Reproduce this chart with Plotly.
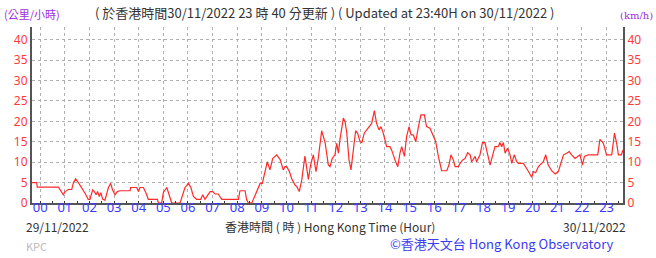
import plotly.graph_objects as go

# Wind speed (km/h) vs Hong Kong time in hours (0 = 00:00 on 30/11/2022)
hours = [-0.33, -0.14, -0.12, 0.74, 0.94, 1.01, 1.14, 1.28, 1.35, 1.44, 1.55, 1.68, 1.82, 1.95, 2.02,
         2.13, 2.20, 2.27, 2.33, 2.40, 2.46, 2.54, 2.63, 2.77, 2.86, 2.94, 3.04, 3.13, 3.24, 3.65,
         3.67, 3.92, 3.99, 4.05, 4.19, 4.30, 4.39, 4.76, 4.80, 4.93, 5.00, 5.14, 5.24, 5.34, 5.68,
         5.79, 5.88, 6.02, 6.12, 6.22, 6.35, 6.52, 6.60, 6.69, 6.83, 6.90, 7.00, 7.10, 7.23, 7.37,
         8.05, 8.11, 8.32, 8.38, 8.45, 8.59, 8.66, 8.79, 8.93, 9.02, 9.13, 9.22, 9.33, 9.44, 9.60,
         9.74, 9.87, 9.94, 10.01, 10.12, 10.21, 10.35, 10.42, 10.52, 10.62, 10.75, 10.89, 10.98,
         11.09, 11.20, 11.29, 11.43, 11.57, 11.63, 11.70, 11.77, 11.86, 11.97, 12.04, 12.11, 12.17,
         12.31, 12.38, 12.45, 12.54, 12.62, 12.72, 12.81, 12.89, 12.99, 13.06, 13.16, 13.26, 13.39,
         13.46, 13.57, 13.66, 13.76, 13.84, 13.93, 14.00, 14.07, 14.20, 14.27, 14.41, 14.52, 14.61,
         14.68, 14.79, 14.88, 14.98, 15.06, 15.15, 15.25, 15.36, 15.46, 15.60, 15.69, 15.83, 15.97,
         16.06, 16.17, 16.23, 16.30, 16.51, 16.60, 16.68, 16.78, 16.85, 16.98, 17.05, 17.15, 17.25,
         17.36, 17.46, 17.52, 17.66, 17.72, 17.86, 17.96, 18.06, 18.17, 18.27, 18.33, 18.47, 18.60,
         18.67, 18.74, 18.81, 18.88, 18.98, 19.08, 19.15, 19.25, 19.35, 19.42, 19.62, 19.75, 19.82,
         19.96, 20.03, 20.12, 20.23, 20.36, 20.43, 20.53, 20.63, 20.77, 20.91, 21.04, 21.11, 21.25,
         21.38, 21.48, 21.58, 21.72, 21.92, 22.02, 22.10, 22.26, 22.64, 22.73, 22.87, 23.00, 23.21,
         23.32, 23.41, 23.48, 23.60, 23.667]
speed = [5.0, 5.0, 3.9, 3.9, 2.0, 2.8, 3.3, 3.3, 5.0, 5.9, 5.0, 3.8, 2.4, 0.9, 0.9,
         3.2, 2.8, 2.0, 2.8, 1.6, 2.5, 0.9, 0.7, 3.8, 4.8, 3.2, 2.0, 2.8, 3.0, 3.0,
         3.8, 3.8, 2.8, 3.8, 3.8, 2.4, 0.9, 0.9, 0.0, 0.0, 2.5, 3.8, 2.0, 0.0, 0.0,
         2.0, 3.8, 4.8, 3.8, 1.6, 0.9, 0.9, 2.0, 0.9, 2.0, 2.8, 2.8, 2.2, 2.2, 0.9,
         0.9, 3.0, 3.0, 0.9, 0.0, 0.0, 0.9, 3.0, 4.8, 4.8, 7.9, 10.1, 8.1, 10.9, 11.8,
         10.7, 8.1, 8.9, 8.9, 7.7, 6.0, 4.4, 4.0, 2.8, 5.6, 11.5, 5.8, 9.3,
         11.8, 7.7, 10.9, 17.7, 14.8, 12.2, 9.3, 8.9, 10.9, 11.8, 14.6, 12.2, 15.4,
         20.8, 19.9, 17.1, 10.5, 8.1, 13.8, 17.7, 17.1, 15.0, 14.8, 17.1, 17.9, 18.9,
         19.5, 22.6, 19.5, 17.9, 18.7, 17.1, 15.4, 13.8, 13.8, 13.0, 10.5, 8.9, 12.2,
         13.8, 11.4, 16.3, 18.7, 16.7, 16.7, 15.0, 18.7, 21.6, 21.6, 18.7, 18.3, 16.3,
         15.0, 11.4, 9.7, 7.9, 7.9, 9.3, 11.8, 10.5, 8.9, 8.9, 9.7, 10.5, 10.9,
         12.3, 11.8, 10.1, 11.4, 10.1, 11.8, 14.8, 14.8, 12.2, 9.3, 10.7, 13.8, 13.8,
         14.8, 13.8, 14.8, 12.2, 13.4, 11.8, 9.7, 11.8, 10.1, 9.7, 9.7, 8.5, 7.7,
         6.3, 7.7, 7.4, 8.9, 9.7, 10.1, 11.8, 9.3, 7.9, 7.1, 7.7, 8.9, 11.8,
         12.2, 12.6, 11.8, 10.9, 11.8, 9.3, 11.4, 11.8, 11.8, 15.6, 14.6, 11.8, 11.8,
         17.1, 14.6, 11.8, 11.8, 13.0]

hour_ticks = list(range(24))
hour_labels = [f"{h:02d}" for h in hour_ticks]
speed_ticks = [0, 5, 10, 15, 20, 25, 30, 35, 40]

X0, X1 = -1/3, 23 + 2/3
Y0, Y1 = 0, 43.1

fig = go.Figure()
fig.add_trace(go.Scatter(x=hours, y=speed, mode="lines",
                         line=dict(color="#ff2a2a", width=1.2), showlegend=False,
                         hoverinfo="skip"))
# invisible companion trace to carry the right-hand axis and the label axis
fig.add_trace(go.Scatter(x=hours, y=speed, mode="lines", xaxis="x2", yaxis="y2",
                         line=dict(color="rgba(0,0,0,0)", width=0), showlegend=False,
                         hoverinfo="skip"))

tickfont_red = dict(family="Noto Sans, DejaVu Sans, sans-serif", size=12, color="#ff3b3b")

fig.update_layout(
    width=656, height=258,
    margin=dict(l=32, r=33, t=27, b=55),
    paper_bgcolor="white", plot_bgcolor="white",
    xaxis=dict(range=[X0, X1], tickvals=hour_ticks, showticklabels=False,
               showgrid=True, gridcolor="#b0b0b0", griddash="dot", gridwidth=1,
               showline=True, linecolor="#555555", linewidth=2,
               ticks="", zeroline=False,
               minor=dict(dtick=0.5, tick0=0, ticks="inside", ticklen=2,
                          tickcolor="#333333", showgrid=False)),
    xaxis2=dict(range=[X0, X1], tickvals=hour_ticks, ticktext=hour_labels,
                overlaying="x", anchor="free", position=0.03, side="bottom",
                showgrid=False, showline=False, ticks="", zeroline=False,
                tickfont=dict(family="Noto Sans, DejaVu Sans, sans-serif", size=13,
                              color="#3a3aff")),
    yaxis=dict(range=[Y0, Y1], tickvals=speed_ticks,
               showgrid=True, gridcolor="#b0b0b0", griddash="dot", gridwidth=1,
               showline=True, linecolor="#555555", linewidth=2,
               zeroline=False, ticks="", tickfont=tickfont_red),
    yaxis2=dict(range=[Y0, Y1], tickvals=speed_ticks, overlaying="y", side="right",
                showgrid=False, showline=True, linecolor="#555555", linewidth=2,
                zeroline=False, ticks="", tickfont=tickfont_red),
)

def px_x(px):
    return (px - 32) / 591

def px_y(py):
    return (203 - py) / 176

cjk = "Noto Sans CJK TC, Noto Sans, sans-serif"
anns = [
    dict(text="(公里/小時)", x=px_x(2), y=px_y(14), xanchor="left",
         font=dict(family=cjk, size=11, color="#a02ee0")),
    dict(text="( 於香港時間30/11/2022 23 時 40 分更新 ) ( Updated at 23:40H on 30/11/2022 )",
         x=px_x(324), y=px_y(12), xanchor="center",
         font=dict(family=cjk, size=13, color="#333333")),
    dict(text="(km/h)", x=px_x(655), y=px_y(15), xanchor="right",
         font=dict(family="DejaVu Serif, serif", size=10, color="#a02ee0")),
    dict(text="29/11/2022", x=px_x(24), y=px_y(226), xanchor="left",
         font=dict(family=cjk, size=12, color="#333333")),
    dict(text="香港時間 ( 時 ) Hong Kong Time (Hour)", x=px_x(330), y=px_y(226),
         xanchor="center", font=dict(family=cjk, size=12, color="#333333")),
    dict(text="30/11/2022", x=px_x(628), y=px_y(226), xanchor="right",
         font=dict(family=cjk, size=12, color="#333333")),
    dict(text="KPC", x=px_x(24), y=px_y(246), xanchor="left",
         font=dict(family=cjk, size=11, color="#bbbbbb")),
    dict(text="©香港天文台 Hong Kong Observatory", x=px_x(616), y=px_y(243),
         xanchor="right", font=dict(family=cjk, size=13, color="#3b3bf0")),
]
for a in anns:
    a.update(xref="paper", yref="paper", yanchor="middle", showarrow=False)
fig.update_layout(annotations=anns)

fig.write_html("out.html")
